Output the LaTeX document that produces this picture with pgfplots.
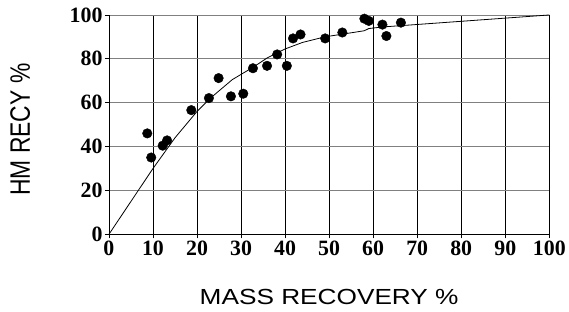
\documentclass[border=0pt]{standalone}
\usepackage{pgfplots}
\pgfplotsset{compat=1.18}
\usepackage{graphicx}
\usepackage{fontspec}
\setmainfont{Liberation Serif}
\newfontfamily\labfont{Liberation Sans}
\begin{document}
\begin{tikzpicture}
\begin{axis}[
  scale only axis,
  width=441.7bp, height=220bp,
  xmin=0, xmax=100, ymin=0, ymax=100,
  xtick={0,10,...,100}, ytick={0,20,...,100},
  axis lines=left,
  axis line style={-, black, line width=0.9bp},
  grid=major,
  x grid style={black, line width=0.8bp},
  y grid style={gray, line width=0.9bp},
  tick align=outside,
  major tick length=4bp,
  tick style={black, line width=0.8bp},
  /pgf/number format/assume math mode=true,
  tick label style={font=\fontsize{22}{22}\selectfont\bfseries},
  xticklabel style={yshift=1bp},
  yticklabel style={xshift=1bp},
  xlabel={\labfont\fontsize{22}{22}\selectfont\scalebox{1.2}[1]{MASS RECOVERY \%}},
  ylabel={\labfont\fontsize{23}{23}\selectfont\scalebox{1}[1.23]{HM RECY \%}},
  xlabel style={at={([yshift=-63bp]rel axis cs:0.5,0)}, anchor=center},
  ylabel style={at={([xshift=-89bp]rel axis cs:0,0.477)}, anchor=center},
  clip=false,
]
\addplot[black, line width=0.8bp, no marks] coordinates {
 (0,0) (10,30) (15,44) (20,56) (23,62) (28,70.5) (33,76.5) (36,80.5)
 (40,84.5) (44,87.5) (49,90) (58,92.8) (59,93.8) (62,94.5) (100,100)
};
\addplot[only marks, mark=*, mark size=4.8bp, black, mark options={fill=black}] coordinates {
 (8.7,46) (9.6,35) (12.2,40.4) (13.2,42.8) (18.7,56.6) (22.7,62.1)
 (24.9,71.2) (27.7,62.9) (30.5,64.1) (32.7,75.7) (35.9,76.8) (38.2,82.0)
 (40.4,76.8) (41.8,89.3) (43.5,91.1) (49.1,89.3) (53.0,92.0) (58.0,98.3)
 (59.0,97.3) (62.1,95.6) (63.0,90.4) (66.3,96.5)
};
\end{axis}
\path[use as bounding box] ([xshift=-109.3bp,yshift=-77bp]current axis.south west) rectangle ++(569bp,312bp);
\end{tikzpicture}
\end{document}
